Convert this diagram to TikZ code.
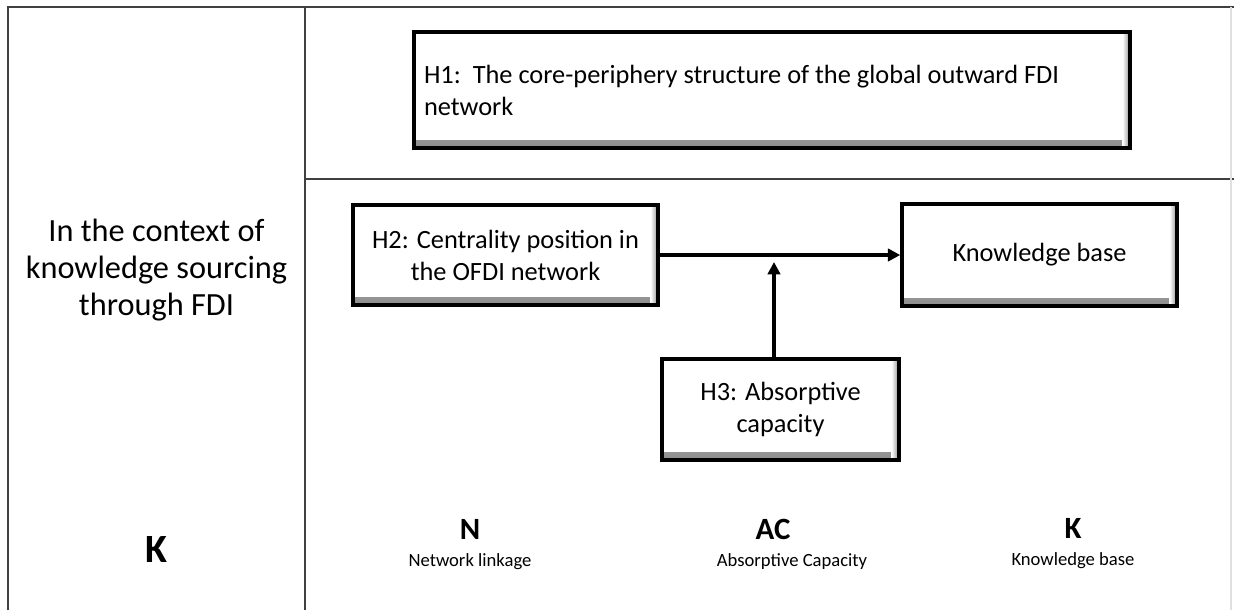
\documentclass[tikz,border=0pt]{standalone}
\usepackage{fontspec}
\setmainfont{Carlito}
\usepackage{tikz}
\usetikzlibrary{calc, positioning, arrows.meta}

\begin{document}
\begin{tikzpicture}[
    frame/.style={black!75, line width=0.9pt},
    hbox/.style={draw=black, line width=2pt, fill=white, inner sep=0.2cm,
      font=\fontsize{15}{18.2}\selectfont, align=center,
      path picture={
        \shade[top color=white, bottom color=black!45]
          (path picture bounding box.south west) rectangle ([yshift=0.15cm]path picture bounding box.south east);
        \shade[left color=white, right color=black!45]
          (path picture bounding box.south east) rectangle ([xshift=-0.15cm]path picture bounding box.north east);
      }},
    letter/.style={font=\fontsize{17.6}{20}\selectfont\bfseries, inner sep=1pt},
    sub/.style={font=\fontsize{10.6}{12}\selectfont, inner sep=1pt},
    arrow/.style={-{Triangle[length=7pt, width=7pt]}, line width=2pt},
  ]
    \useasboundingbox (0,0) rectangle (24.68,12.2);

    % table lines
    \draw[frame] (0.16,0) -- (0.16,12.06) -- (24.68,12.06);
    \draw[frame] (6.10,0) -- (6.10,12.06);
    \draw[frame] (6.10,8.62) -- (24.68,8.62);
    \draw[black!12, line width=1.2pt] (24.62,0) -- (24.62,12.06);

    % left column
    \node[font=\fontsize{18.4}{21}\selectfont, align=center] (context) at (3.13, 6.8)
      {In the context of\\knowledge sourcing\\through FDI};
    \node[font=\fontsize{22.8}{26}\selectfont\bfseries] (kleft) at (3.12, 1.2) {K};

    % hypotheses
    \node[hbox, minimum width=14.32cm, minimum height=2.32cm, text width=13.92cm, align=flush left] (h1) at (15.44, 10.40)
      {H1:\ \ The core-periphery structure of the global outward FDI\\network};
    \node[hbox, minimum width=6.1cm, minimum height=2.0cm] (h2) at (10.11, 7.10)
      {H2: Centrality position in\\the OFDI network};
    \node[hbox, minimum width=5.5cm, minimum height=2.04cm] (kb) at (20.79, 7.10) {Knowledge base};
    \node[hbox, minimum width=4.74cm, minimum height=2.02cm] (h3) at (15.61, 4.01)
      {H3: Absorptive\\capacity};

    \coordinate (meet) at (15.48, 6.96);
    \draw[arrow] (h2.east) -- (kb.west);
    \draw[arrow] (meet |- h3.north) -- (meet);

    % variables
    \node[letter] (n) at (9.4, 1.62) {N};
    \node[sub, below=0.2cm of n] (nsub) {Network linkage};
    \node[letter] (ac) at (15.46, 1.62) {AC};
    \node[sub, below=0.2cm of ac, xshift=0.38cm] (acsub) {Absorptive Capacity};
    \node[letter] (k) at (21.46, 1.64) {K};
    \node[sub, below=0.2cm of k] (ksub) {Knowledge base};
\end{tikzpicture}
\end{document}
